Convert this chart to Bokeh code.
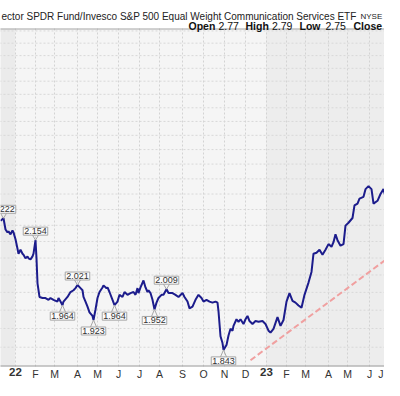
import math
from bokeh.plotting import figure
from bokeh.models import Range1d
from bokeh.core.properties import value
from bokeh.embed import file_html
from bokeh.resources import INLINE

# ---- data (x = trading session, 0 = first session of 2022) ----
sessions = [-15, -12, -10, -8, -7, -5, -3, -2, 0, 2,
            3, 5, 7, 8, 10, 12, 13, 15, 17, 18,
            20, 21, 22, 24, 27, 30, 33, 35, 38, 42,
            43, 45, 47, 48, 52, 55, 58, 60, 62, 65,
            67, 68, 70, 72, 74, 77, 78, 80, 82, 84,
            87, 88, 91, 92, 94, 97, 99, 102, 104, 107,
            109, 112, 115, 118, 120, 122, 123, 125, 128, 130,
            132, 133, 135, 137, 139, 141, 143, 146, 148, 151,
            153, 157, 160, 163, 167, 169, 172, 174, 177, 180,
            183, 186, 188, 191, 194, 197, 200, 202, 203, 205,
            207, 208, 211, 213, 215, 217, 218, 221, 223, 225,
            228, 230, 232, 234, 237, 240, 243, 247, 250, 253,
            255, 258, 262, 265, 268, 271, 274, 277, 280, 283,
            286, 289, 293, 296, 298, 301, 304, 307, 310, 313,
            316, 318, 320, 322, 325, 328, 330, 333, 337, 339,
            342, 344, 348, 350, 353, 356, 358, 362, 365, 368,
            370, 373, 377, 380, 383, 385]
ratio = [2.214, 2.222, 2.187, 2.178, 2.181, 2.172, 2.184, 2.178, 2.157, 2.128,
         2.113, 2.125, 2.113, 2.110, 2.099, 2.105, 2.099, 2.096, 2.105, 2.113,
         2.154, 2.099, 2.026, 1.987, 1.984, 1.984, 1.979, 1.984, 1.979, 1.974,
         1.984, 1.974, 1.964, 1.974, 1.987, 2.001, 2.006, 2.012, 2.021, 2.012,
         2.006, 1.987, 1.974, 1.960, 1.944, 1.934, 1.923, 1.952, 1.984, 2.001,
         2.014, 2.020, 2.012, 2.014, 2.001, 1.979, 1.964, 1.974, 1.993, 1.987,
         2.001, 1.993, 1.998, 2.001, 1.993, 2.012, 1.998, 2.014, 2.034, 2.014,
         2.001, 2.006, 1.998, 1.979, 1.952, 1.971, 1.984, 1.993, 1.993, 2.009,
         1.998, 1.998, 1.993, 1.987, 1.998, 1.987, 1.974, 1.955, 1.960, 1.979,
         1.993, 1.984, 1.974, 1.979, 1.974, 1.971, 1.974, 1.971, 1.947, 1.879,
         1.861, 1.843, 1.856, 1.881, 1.899, 1.894, 1.907, 1.925, 1.918, 1.925,
         1.912, 1.925, 1.934, 1.920, 1.912, 1.920, 1.918, 1.920, 1.912, 1.894,
         1.889, 1.899, 1.931, 1.907, 1.923, 1.974, 1.998, 1.976, 1.971, 1.963,
         1.957, 1.993, 2.028, 2.059, 2.113, 2.116, 2.125, 2.110, 2.125, 2.142,
         2.134, 2.148, 2.172, 2.154, 2.137, 2.142, 2.199, 2.208, 2.223, 2.263,
         2.269, 2.285, 2.291, 2.316, 2.326, 2.316, 2.269, 2.278, 2.300, 2.316,
         2.291, 2.294, 2.285, 2.307, 2.300, 2.307]

tick_sessions = [0, 20, 39, 62, 82, 103, 124, 144, 167, 188, 209, 230,
                 251, 271, 290, 313, 332, 354, 375]
tick_labels = ["22", "F", "M", "A", "M", "J", "J", "A", "S", "O", "N", "D",
               "23", "F", "M", "A", "M", "J", "J"]
year_labels = ["22", "23"]
grid_levels = [1.85, 1.9, 1.95, 2.0, 2.05, 2.1, 2.15, 2.2, 2.25, 2.3, 2.35,
               2.4, 2.45, 2.5, 2.55, 2.6, 2.65, 2.7, 2.75, 2.8, 2.85, 2.9]
year_starts = [0, 251]

label_sessions = [-12, 20, 47, 62, 78, 99, 139, 151, 208]
label_values = [2.222, 2.154, 1.964, 2.021, 1.923, 1.964, 1.952, 2.009, 1.843]
label_kind = ["high", "high", "low", "high", "low", "low", "low", "high", "low"]

trend_sessions = [235, 385]
trend_values = [1.816, 2.128]

title_text = "ector SPDR Fund/Invesco S&P 500 Equal Weight Communication Services ETF"
exchange_text = "NYSE"
quote_names = ["Open", "High", "Low", "Close"]
quote_values = ["2.77", "2.79", "2.75"]

# ---- layout: the frame fills the whole canvas; canvas pixel -> data helpers ----
W, H = 384, 380
X0 = 15                         # canvas x of session 0 (1 px per session)
plot_top, plot_bot = 28, 366    # canvas y of the plotting area edges
P_TOP, P_BOT = 2.910, 1.800     # ratio values at those edges (log scale)
K = (plot_bot - plot_top) / math.log(P_TOP / P_BOT)   # px per ln unit


def py(cy):                     # ratio value at a canvas y
    return math.exp(math.log(P_TOP) - (cy - plot_top) / K)


def sx(cx):                     # session at a canvas x
    return cx - X0


FONT = "Liberation Sans"
x_lo, x_hi = sx(0), sx(W)

p = figure(width=W, height=H, x_range=Range1d(x_lo, x_hi),
           y_range=Range1d(py(H), py(0)),
           y_axis_type="log", x_axis_location=None, y_axis_location=None,
           output_backend="svg", toolbar_location=None, min_border=0,
           background_fill_color="white", border_fill_color="white",
           outline_line_color=None)
p.grid.visible = False
p.title.visible = False

# year bands of the plotting area
band_left = [x_lo - 40] + [s - 0.5 for s in year_starts]
band_right = [s - 0.5 for s in year_starts] + [x_hi + 40]
band_color = ["#ebebeb", "#f5f5f5", "#ededed"]
p.quad(left=band_left, right=band_right, bottom=P_BOT, top=P_TOP,
       fill_color=band_color, line_color=None)

# dashed grid
p.segment(x0=tick_sessions, y0=[P_BOT] * len(tick_sessions),
          x1=tick_sessions, y1=[P_TOP] * len(tick_sessions),
          line_color="#d3d3d3", line_dash="2 2", line_width=1)
p.segment(x0=[x_lo - 5] * len(grid_levels), y0=grid_levels,
          x1=[x_hi + 5] * len(grid_levels), y1=grid_levels,
          line_color="#d8d8d8", line_dash="2 2", line_width=1)

# top / bottom borders of the plotting area
p.line([x_lo - 5, x_hi + 5], [py(plot_top + 0.5)] * 2, line_color="#a8a8a8", line_width=1)
p.line([x_lo - 5, x_hi + 5], [py(plot_bot - 0.5)] * 2, line_color="#9a9a9a", line_width=1)

# month / year labels (a label that would run past the right edge is pulled inside)
for s, l in zip(tick_sessions, tick_labels):
    is_year = l in year_labels
    inside = s + X0 + 4 <= W
    p.text(x=[s if inside else sx(W - 1)], y=[py(plot_bot + 1)], text=[l],
           text_font=value(FONT),
           text_font_size=value("11.5px" if is_year else "10.5px"),
           text_font_style="bold" if is_year else "normal",
           text_color="#333333", text_align="center" if inside else "right",
           text_baseline="top")

# series
p.line(trend_sessions, trend_values, line_color="#f0a0a0", line_width=2, line_dash="6 3")
p.line(sessions, ratio, line_color="#1c1c8c", line_width=2)

# swing labels
for kind, base, off in (("high", "bottom", -5), ("low", "top", 7)):
    idx = [i for i, k in enumerate(label_kind) if k == kind]
    xs = [label_sessions[i] for i in idx]
    ys = [label_values[i] for i in idx]
    p.text(x=xs, y=ys, text=[f"{v:.3f}" for v in ys],
           text_font=value(FONT), text_font_size=value("9px"),
           text_color="#333333", text_align="center", text_baseline=base,
           y_offset=off, background_fill_color="#fbfbfb",
           border_line_color="#a6a6a6", padding=1)
    k = math.exp(-off / K)
    x0 = [x + d for x in xs for d in (-3, 3)]
    y0 = [y * k for y in ys for d in (-3, 3)]
    x1 = [x for x in xs for d in (-3, 3)]
    y1 = [y for y in ys for d in (-3, 3)]
    p.segment(x0=x0, y0=y0, x1=x1, y1=y1, line_color="#a6a6a6", line_width=1)


# header texts
def header(cxs, base, texts, size, style="normal", color="#222222"):
    p.text(x=[sx(c) for c in cxs], y=[py(base)] * len(texts), text=texts,
           text_font=value(FONT), text_font_size=value(size), text_font_style=style,
           text_color=color, text_align="left", text_baseline="alphabetic")


header([1], 15.5, [title_text], "10px")
header([360], 15.5, [exchange_text], "8px")
header([188, 245, 299, 353], 25.5, quote_names, "10.5px", "bold", "#111111")
header([218, 271.5, 325], 25.5, quote_values, "10.5px", "normal", "#111111")

open("out.html", "w").write(file_html(p, INLINE))
